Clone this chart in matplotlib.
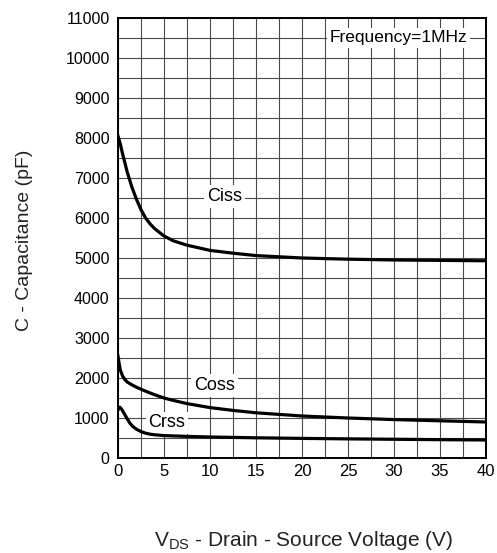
import numpy as np
import matplotlib
matplotlib.use("Agg")
import matplotlib.pyplot as plt
from matplotlib.ticker import MultipleLocator

plt.rcParams['font.family'] = ['Liberation Sans', 'DejaVu Sans']
plt.rcParams['mathtext.fontset'] = 'custom'
plt.rcParams['mathtext.rm'] = 'Liberation Sans'
plt.rcParams['mathtext.it'] = 'Liberation Sans'

# values
ciss_v = [0, 0.25, 0.5, 0.75, 1, 1.5, 2, 2.5, 3, 3.5, 4, 5, 6, 7.5, 10, 12.5, 15, 20, 25, 30, 35, 40]
ciss_c = [8050, 7850, 7600, 7380, 7150, 6780, 6470, 6210, 6000, 5850, 5730, 5550, 5430, 5320,
          5190, 5120, 5060, 5000, 4970, 4950, 4940, 4930]

coss_v = [0, 0.1, 0.25, 0.5, 0.75, 1, 1.5, 2, 3, 4, 5, 6, 7.5, 10, 12.5, 15, 20, 25, 30, 35, 40]
coss_c = [2550, 2400, 2200, 2050, 1960, 1900, 1830, 1770, 1670, 1580, 1500, 1440, 1360, 1260,
          1190, 1130, 1050, 1000, 960, 930, 900]

crss_v = [0, 0.2, 0.4, 0.7, 1, 1.3, 1.6, 2, 2.5, 3, 3.5, 4, 5, 7.5, 10, 15, 20, 25, 30, 35, 40]
crss_c = [1200, 1270, 1220, 1100, 980, 870, 790, 720, 660, 620, 595, 580, 560, 540, 525, 505,
          490, 478, 468, 458, 450]

x_ticks = [0, 5, 10, 15, 20, 25, 30, 35, 40]
y_ticks = list(range(0, 11001, 1000))

fig = plt.figure(figsize=(4.97, 5.53), dpi=100)
ax = fig.add_axes([0.2374, 0.1718, 0.7404, 0.7957])

ax.set_xlim(0, 40)
ax.set_ylim(0, 11000)
ax.set_xticks(x_ticks)
ax.set_yticks(y_ticks)
ax.xaxis.set_minor_locator(MultipleLocator(2.5))
ax.yaxis.set_minor_locator(MultipleLocator(500))
ax.grid(which='both', color='#4a4a4a', linewidth=0.8)
ax.set_axisbelow(True)
ax.tick_params(which='both', length=0)
ax.tick_params(axis='y', labelsize=11.5, pad=6)
ax.tick_params(axis='x', labelsize=12, pad=4)
for sp in ax.spines.values():
    sp.set_linewidth(1.4)
    sp.set_color('black')
    sp.set_zorder(4)

for v, c in [(ciss_v, ciss_c), (coss_v, coss_c), (crss_v, crss_c)]:
    ax.plot(v, c, color='black', linewidth=2.3, solid_joinstyle='round', zorder=3)

box = dict(facecolor='white', edgecolor='none', pad=2.0)
ax.text(30.5, 10500, 'Frequency=1MHz', fontsize=12.5, ha='center', va='center', bbox=box, zorder=2.5)
ax.text(11.6, 6540, 'Ciss', fontsize=13, ha='center', va='center', bbox=box, zorder=2.5)
ax.text(10.5, 1810, 'Coss', fontsize=13, ha='center', va='center', bbox=box, zorder=2.5)
ax.text(5.3, 880, 'Crss', fontsize=13, ha='center', va='center', bbox=box, zorder=2.5)

fig.text(25 / 497, 1 - 240 / 553, 'C - Capacitance (pF)', rotation=90,
         fontsize=14, color='#222222', ha='center', va='center')
fig.text(303 / 497, 1 - 541 / 553, r'V$_{\mathrm{DS}}$ - Drain - Source Voltage (V)',
         fontsize=15, color='#222222', ha='center', va='center')

fig.savefig('out.png', dpi=100)
